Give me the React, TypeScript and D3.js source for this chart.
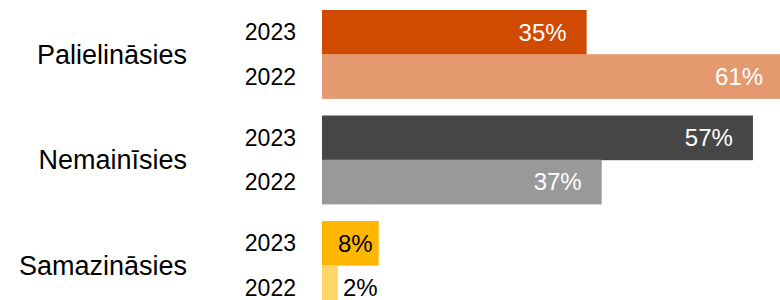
import React, { useRef, useEffect } from "react";
import * as d3 from "d3";

const categories = ["Palielināsies", "Nemainīsies", "Samazināsies"];
const years = ["2023", "2022"];
const values2023 = [35, 57, 7.5];
const values2022 = [61, 37, 2.1];
const colors2023 = ["#D04A02", "#464646", "#FFB600"];
const colors2022 = ["#E4996F", "#999999", "#FFD56A"];
const labelColors2023 = ["#ffffff", "#ffffff", "#000000"];
const labelColors2022 = ["#ffffff", "#ffffff", "#000000"];

const FONT = "'Liberation Sans', Arial, Helvetica, sans-serif";

const App = () => {
	const svgRef = useRef<SVGSVGElement | null>(null);

	useEffect(() => {
		if (!svgRef.current) return;
		const width = 780;
		const height = 300;
		const svg = d3.select(svgRef.current);
		svg.attr("width", width).attr("height", height);
		svg.selectAll("*").remove();

		const rows = categories.map((c, i) => ({
			category: c,
			bars: [
				{ year: years[0], value: values2023[i], color: colors2023[i], label: labelColors2023[i] },
				{ year: years[1], value: values2022[i], color: colors2022[i], label: labelColors2022[i] },
			],
		}));

		const y0 = d3
			.scaleBand<string>()
			.domain(categories)
			.range([10, 309.4])
			.paddingInner(0.162)
			.paddingOuter(0);

		const y1 = d3.scaleBand<string>().domain(years).range([0, y0.bandwidth()]).padding(0);

		// ~7.56px per percent, bars start at 322
		const x = d3.scaleLinear().domain([0, 100]).range([322, 322 + 756]);

		const group = svg
			.selectAll("g.group")
			.data(rows)
			.enter()
			.append("g")
			.attr("class", "group")
			.attr("transform", (d) => `translate(0,${y0(d.category)})`);

		group
			.append("text")
			.attr("x", 187)
			.attr("y", y0.bandwidth() / 2)
			.attr("dy", "0.36em")
			.attr("text-anchor", "end")
			.style("font-family", FONT)
			.style("font-size", "27px")
			.attr("fill", "#000")
			.text((d) => d.category);

		const bar = group
			.selectAll("g.bar")
			.data((d) => d.bars)
			.enter()
			.append("g")
			.attr("class", "bar")
			.attr("transform", (d) => `translate(0,${y1(d.year)})`);

		bar
			.append("text")
			.attr("x", 296)
			.attr("y", y1.bandwidth() / 2)
			.attr("dy", "0.36em")
			.attr("text-anchor", "end")
			.style("font-family", FONT)
			.style("font-size", "23px")
			.attr("fill", "#000")
			.text((d) => d.year);

		bar
			.append("rect")
			.attr("x", x(0))
			.attr("y", 0)
			.attr("width", (d) => x(d.value) - x(0))
			.attr("height", y1.bandwidth() + 0.5)
			.attr("fill", (d) => d.color);

		const fs = 24;
		bar
			.append("text")
			.attr("y", y1.bandwidth() / 2)
			.attr("dy", "0.36em")
			.style("font-family", FONT)
			.style("font-size", `${fs}px`)
			.each(function (d) {
				const txt = `${Math.round(d.value)}%`;
				const tw = txt.length * fs * 0.6;
				const w = x(d.value) - x(0);
				const t = d3.select(this).text(txt);
				if (w >= tw + 40) {
					t.attr("x", x(d.value) - 20).attr("text-anchor", "end").attr("fill", d.label);
				} else if (w >= tw + 10) {
					t.attr("x", x(d.value) - 6).attr("text-anchor", "end").attr("fill", d.label);
				} else {
					t.attr("x", x(d.value) + 5).attr("text-anchor", "start").attr("fill", "#000");
				}
			});
	}, []);

	return (
		<div style={{ position: "absolute", left: 0, top: 0 }}>
			<svg ref={svgRef} style={{ display: "block" }}></svg>
		</div>
	);
};

export default App;
